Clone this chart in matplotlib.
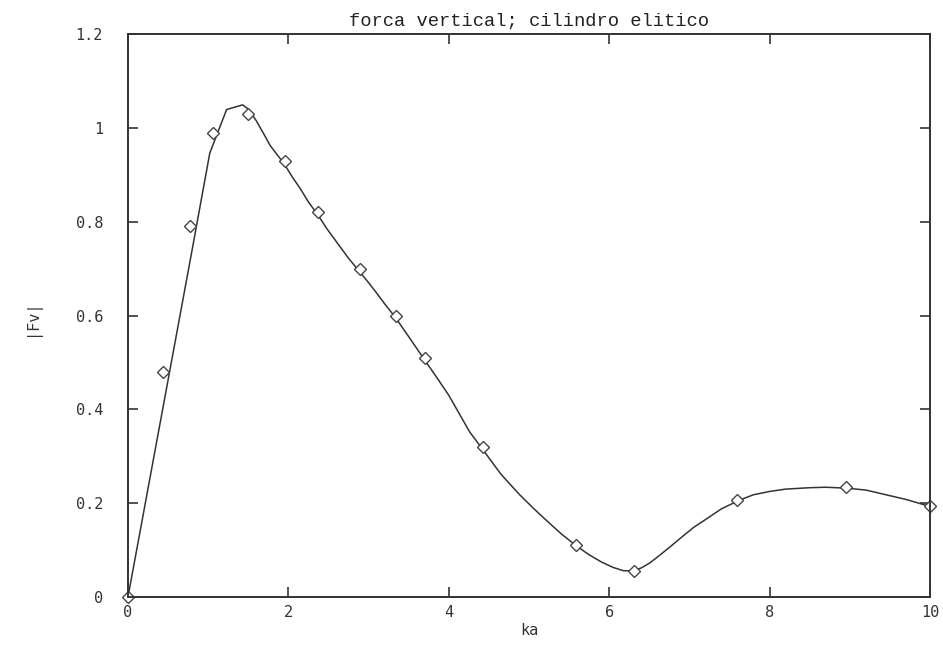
import matplotlib
matplotlib.use("Agg")
import matplotlib.pyplot as plt

# curve |Fv| vs ka
curve_ka = [0.0, 0.8, 1.02, 1.23, 1.43, 1.5, 1.6, 1.7, 1.77, 1.85, 1.94,
            2.05, 2.15, 2.25, 2.37, 2.48, 2.6, 2.75, 2.89, 3.0, 3.1, 3.2,
            3.33, 3.5, 3.6, 3.7, 3.85, 4.0, 4.1, 4.26, 4.43, 4.55, 4.65,
            4.75, 4.89, 5.05, 5.2, 5.4, 5.59, 5.75, 5.9, 6.05, 6.18, 6.3,
            6.4, 6.5, 6.6, 6.76, 6.92, 7.05, 7.2, 7.4, 7.63, 7.8, 8.0,
            8.2, 8.5, 8.7, 8.96, 9.2, 9.4, 9.7, 10.0]
curve_fv = [0.0, 0.74, 0.946, 1.039, 1.049, 1.04, 1.015, 0.985, 0.963,
            0.945, 0.925, 0.895, 0.87, 0.842, 0.814, 0.785, 0.757, 0.722,
            0.693, 0.67, 0.648, 0.625, 0.597, 0.555, 0.53, 0.505, 0.468,
            0.43, 0.40, 0.352, 0.313, 0.285, 0.262, 0.243, 0.217, 0.19,
            0.166, 0.135, 0.109, 0.09, 0.075, 0.063, 0.056, 0.056, 0.062,
            0.072, 0.085, 0.107, 0.13, 0.148, 0.165, 0.188, 0.207, 0.218,
            0.225, 0.23, 0.233, 0.234, 0.232, 0.228, 0.22, 0.208, 0.193]

# diamond points
pts_ka = [0.0, 0.44, 0.77, 1.06, 1.5, 1.96, 2.37, 2.89, 3.34, 3.7, 4.43,
          5.59, 6.31, 7.59, 8.95, 10.0]
pts_fv = [0.0, 0.48, 0.79, 0.99, 1.03, 0.93, 0.82, 0.70, 0.60, 0.51, 0.32,
          0.11, 0.055, 0.207, 0.234, 0.195]

xticks = [0, 2, 4, 6, 8, 10]
yticks = [0, 0.2, 0.4, 0.6, 0.8, 1.0, 1.2]
ytick_labels = ["0", "0.2", "0.4", "0.6", "0.8", "1", "1.2"]

fig = plt.figure(figsize=(9.43, 6.5), dpi=100)
ax = fig.add_axes([0.1357, 0.0815, 0.8505, 0.8662])

ax.plot(curve_ka, curve_fv, color="#333333", linewidth=1.1)
ax.plot(pts_ka, pts_fv, linestyle="none", marker="D", markersize=6,
        markerfacecolor="white", markeredgecolor="#444444",
        markeredgewidth=1.0, clip_on=False)

ax.set_xlim(0, 10)
ax.set_ylim(0, 1.2)
ax.set_xticks(xticks)
ax.set_xticklabels([str(t) for t in xticks])
ax.set_yticks(yticks)
ax.set_yticklabels(ytick_labels)

mono = "DejaVu Sans Mono"
ax.tick_params(direction="in", length=7, width=1.2, top=True, right=True,
               labelsize=11, colors="#333333")
ax.tick_params(axis="y", pad=18)
ax.tick_params(axis="x", pad=6)
for lab in ax.get_xticklabels() + ax.get_yticklabels():
    lab.set_family(mono)

for sp in ax.spines.values():
    sp.set_linewidth(1.4)
    sp.set_color("#333333")

ax.set_title("forca vertical; cilindro elitico", family="Liberation Mono",
             fontsize=13.5, color="#222222", pad=6)
ax.set_xlabel("ka", family=mono, fontsize=11, color="#333333", labelpad=2)
ax.set_ylabel("|Fv|", family=mono, fontsize=11, color="#333333")
ax.yaxis.set_label_coords(-0.11, 0.496)

fig.savefig("out.png", dpi=100)
